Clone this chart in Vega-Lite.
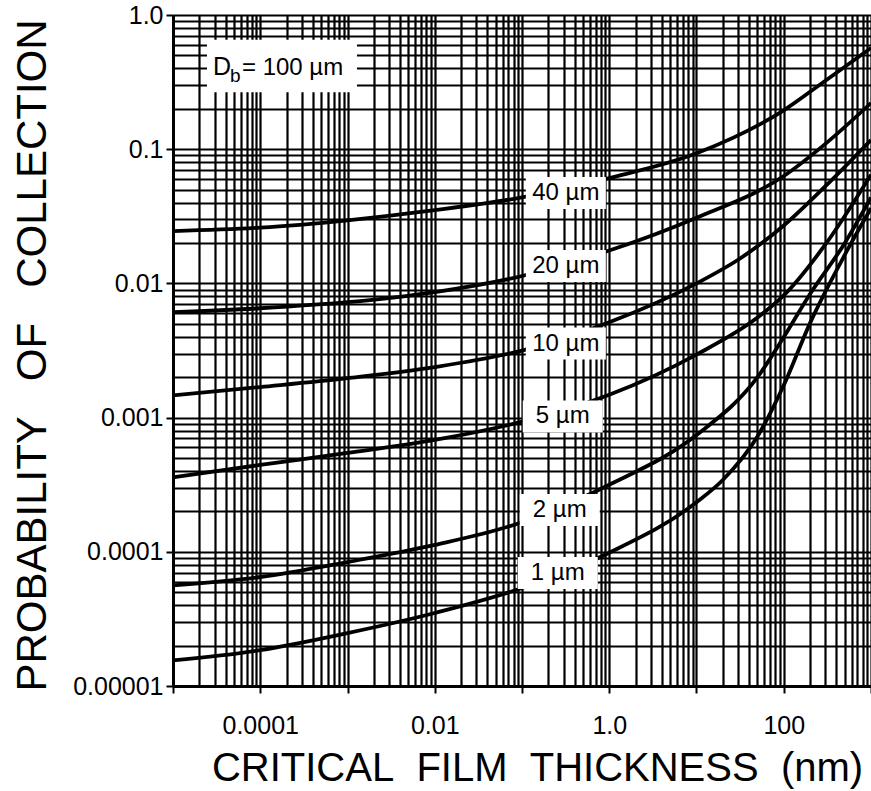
{
  "$schema": "https://vega.github.io/schema/vega-lite/v6.json",
  "width": 698,
  "height": 671,
  "autosize": {"type": "none"},
  "padding": {"left": 173, "top": 15, "right": 0, "bottom": 105},
  "background": "white",
  "config": {
    "view": {"stroke": null},
    "font": "Liberation Sans"
  },
  "datasets": {
    "curves": [
      {"series": "40 µm", "x": 0.00001, "p": 0.02455},
      {"series": "40 µm", "x": 0.0001, "p": 0.0260},
      {"series": "40 µm", "x": 0.001, "p": 0.0295},
      {"series": "40 µm", "x": 0.01, "p": 0.0351},
      {"series": "40 µm", "x": 0.1, "p": 0.0437},
      {"series": "40 µm", "x": 1, "p": 0.0610},
      {"series": "40 µm", "x": 10, "p": 0.0933},
      {"series": "40 µm", "x": 100, "p": 0.195},
      {"series": "40 µm", "x": 300, "p": 0.324},
      {"series": "40 µm", "x": 1000, "p": 0.568},

      {"series": "20 µm", "x": 0.00001, "p": 0.00610},
      {"series": "20 µm", "x": 0.0001, "p": 0.00653},
      {"series": "20 µm", "x": 0.001, "p": 0.00724},
      {"series": "20 µm", "x": 0.01, "p": 0.00861},
      {"series": "20 µm", "x": 0.1, "p": 0.01135},
      {"series": "20 µm", "x": 1, "p": 0.01758},
      {"series": "20 µm", "x": 10, "p": 0.0309},
      {"series": "20 µm", "x": 100, "p": 0.0631},
      {"series": "20 µm", "x": 300, "p": 0.1096},
      {"series": "20 µm", "x": 1000, "p": 0.2208},

      {"series": "10 µm", "x": 0.00001, "p": 0.001462},
      {"series": "10 µm", "x": 0.0001, "p": 0.00169},
      {"series": "10 µm", "x": 0.001, "p": 0.00197},
      {"series": "10 µm", "x": 0.01, "p": 0.00238},
      {"series": "10 µm", "x": 0.1, "p": 0.00316},
      {"series": "10 µm", "x": 1, "p": 0.00513},
      {"series": "10 µm", "x": 10, "p": 0.0100},
      {"series": "10 µm", "x": 30, "p": 0.0150},
      {"series": "10 µm", "x": 100, "p": 0.0270},
      {"series": "10 µm", "x": 300, "p": 0.0530},
      {"series": "10 µm", "x": 1000, "p": 0.1172},

      {"series": "5 µm", "x": 0.00001, "p": 0.000359},
      {"series": "5 µm", "x": 0.0001, "p": 0.000444},
      {"series": "5 µm", "x": 0.001, "p": 0.000545},
      {"series": "5 µm", "x": 0.01, "p": 0.000681},
      {"series": "5 µm", "x": 0.1, "p": 0.000933},
      {"series": "5 µm", "x": 1, "p": 0.00148},
      {"series": "5 µm", "x": 10, "p": 0.00295},
      {"series": "5 µm", "x": 50, "p": 0.00556},
      {"series": "5 µm", "x": 100, "p": 0.00813},
      {"series": "5 µm", "x": 300, "p": 0.0195},
      {"series": "5 µm", "x": 1000, "p": 0.0646},

      {"series": "2 µm", "x": 0.00001, "p": 0.0000562},
      {"series": "2 µm", "x": 0.0001, "p": 0.0000649},
      {"series": "2 µm", "x": 0.001, "p": 0.0000839},
      {"series": "2 µm", "x": 0.01, "p": 0.0001125},
      {"series": "2 µm", "x": 0.1, "p": 0.000166},
      {"series": "2 µm", "x": 1, "p": 0.000316},
      {"series": "2 µm", "x": 10, "p": 0.000741},
      {"series": "2 µm", "x": 50, "p": 0.00200},
      {"series": "2 µm", "x": 100, "p": 0.00398},
      {"series": "2 µm", "x": 200, "p": 0.00834},
      {"series": "2 µm", "x": 500, "p": 0.01995},
      {"series": "2 µm", "x": 1000, "p": 0.0437},

      {"series": "1 µm", "x": 0.00001, "p": 0.0000155},
      {"series": "1 µm", "x": 0.0001, "p": 0.0000185},
      {"series": "1 µm", "x": 0.001, "p": 0.0000248},
      {"series": "1 µm", "x": 0.01, "p": 0.0000350},
      {"series": "1 µm", "x": 0.1, "p": 0.0000537},
      {"series": "1 µm", "x": 1, "p": 0.0000984},
      {"series": "1 µm", "x": 10, "p": 0.000234},
      {"series": "1 µm", "x": 20, "p": 0.000343},
      {"series": "1 µm", "x": 50, "p": 0.000724},
      {"series": "1 µm", "x": 100, "p": 0.00174},
      {"series": "1 µm", "x": 200, "p": 0.00506},
      {"series": "1 µm", "x": 500, "p": 0.0163},
      {"series": "1 µm", "x": 1000, "p": 0.0363}
    ],
    "labels": [
      {"label": "40 µm", "x": 0.318, "p": 0.0472},
      {"label": "20 µm", "x": 0.318, "p": 0.01349},
      {"label": "10 µm", "x": 0.318, "p": 0.00356},
      {"label": "5 µm", "x": 0.293, "p": 0.00102},
      {"label": "2 µm", "x": 0.271, "p": 0.000205},
      {"label": "1 µm", "x": 0.257, "p": 0.0000695}
    ],
    "note": [
      {"value": "= 100 µm", "x": 0.0001774, "p": 0.417}
    ]
  },
  "encoding": {
    "x": {
      "field": "x",
      "type": "quantitative",
      "scale": {"type": "log", "domain": [0.00001, 1000], "nice": false},
      "axis": {
        "title": "CRITICAL\u00a0\u00a0FILM\u00a0\u00a0THICKNESS\u00a0\u00a0(nm)",
        "values": [0.00001, 0.00002, 0.00003, 0.00004, 0.00005, 0.00006, 0.00007, 0.00008, 0.00009,
                   0.0001, 0.0002, 0.0003, 0.0004, 0.0005, 0.0006, 0.0007, 0.0008, 0.0009,
                   0.001, 0.002, 0.003, 0.004, 0.005, 0.006, 0.007, 0.008, 0.009,
                   0.01, 0.02, 0.03, 0.04, 0.05, 0.06, 0.07, 0.08, 0.09,
                   0.1, 0.2, 0.3, 0.4, 0.5, 0.6, 0.7, 0.8, 0.9,
                   1, 2, 3, 4, 5, 6, 7, 8, 9,
                   10, 20, 30, 40, 50, 60, 70, 80, 90,
                   100, 200, 300, 400, 500, 600, 700, 800, 900, 1000],
        "labelExpr": "abs(datum.value-0.0001)<1e-10 ? '0.0001' : abs(datum.value-0.01)<1e-8 ? '0.01' : abs(datum.value-1)<1e-6 ? '1.0' : abs(datum.value-100)<1e-4 ? '100' : ''",
        "labelOverlap": false,
        "labelBound": false,
        "labelFlush": false,
        "labelFontSize": 25,
        "labelColor": "black",
        "labelPadding": 20,
        "grid": true,
        "gridColor": "black",
        "gridWidth": 2.2,
        "gridOpacity": 1,
        "domainColor": "black",
        "domainWidth": 3,
        "tickColor": "black",
        "tickWidth": 2,
        "tickSize": 7,
        "tickOpacity": {"condition": {"test": "abs(log(datum.value)/LN10 - round(log(datum.value)/LN10)) < 0.001", "value": 1}, "value": 0},
        "titleFontSize": 40,
        "titleFontWeight": "normal",
        "titleColor": "black",
        "titleX": 364,
        "titleY": 94,
        "titleAlign": "center",
        "titleBaseline": "alphabetic"
      }
    },
    "y": {
      "field": "p",
      "type": "quantitative",
      "scale": {"type": "log", "domain": [0.00001, 1], "nice": false},
      "axis": {
        "title": "PROBABILITY\u00a0\u00a0\u00a0OF\u00a0\u00a0\u00a0COLLECTION",
        "values": [0.00001, 0.00002, 0.00003, 0.00004, 0.00005, 0.00006, 0.00007, 0.00008, 0.00009,
                   0.0001, 0.0002, 0.0003, 0.0004, 0.0005, 0.0006, 0.0007, 0.0008, 0.0009,
                   0.001, 0.002, 0.003, 0.004, 0.005, 0.006, 0.007, 0.008, 0.009,
                   0.01, 0.02, 0.03, 0.04, 0.05, 0.06, 0.07, 0.08, 0.09,
                   0.1, 0.2, 0.3, 0.4, 0.5, 0.6, 0.7, 0.8, 0.9, 1],
        "labelExpr": "abs(datum.value-1)<1e-6 ? '1.0' : abs(datum.value-0.1)<1e-7 ? '0.1' : abs(datum.value-0.01)<1e-8 ? '0.01' : abs(datum.value-0.001)<1e-9 ? '0.001' : abs(datum.value-0.0001)<1e-10 ? '0.0001' : abs(datum.value-0.00001)<1e-11 ? '0.00001' : ''",
        "labelOverlap": false,
        "labelBound": false,
        "labelFlush": false,
        "labelFontSize": 25,
        "labelColor": "black",
        "labelPadding": 3,
        "grid": true,
        "gridColor": "black",
        "gridWidth": 2.2,
        "gridOpacity": 1,
        "domainColor": "black",
        "domainWidth": 3,
        "tickColor": "black",
        "tickWidth": 2,
        "tickSize": 7,
        "tickOpacity": {"condition": {"test": "abs(log(datum.value)/LN10 - round(log(datum.value)/LN10)) < 0.001", "value": 1}, "value": 0},
        "titleFontSize": 42,
        "titleFontWeight": "normal",
        "titleColor": "black",
        "titleAngle": -90,
        "titleX": -128,
        "titleY": 340,
        "titleAlign": "center",
        "titleBaseline": "alphabetic"
      }
    }
  },
  "layer": [
    {
      "data": {"name": "curves"},
      "mark": {"type": "line", "stroke": "black", "strokeWidth": 3.8, "interpolate": "monotone", "clip": true},
      "encoding": {"detail": {"field": "series", "type": "nominal"}}
    },
    {
      "data": {"name": "labels"},
      "mark": {"type": "point", "shape": "M-1,-0.4H1V0.4H-1Z", "filled": true, "fill": "white", "opacity": 1, "strokeWidth": 0, "size": 6400}
    },
    {
      "data": {"name": "labels"},
      "mark": {"type": "text", "fontSize": 24, "color": "black", "align": "center", "baseline": "middle"},
      "encoding": {"text": {"field": "label", "type": "nominal"}}
    },
    {
      "data": {"name": "note"},
      "mark": {"type": "point", "shape": "M-1,-0.35H1V0.35H-1Z", "filled": true, "fill": "white", "opacity": 1, "strokeWidth": 0, "size": 22500}
    },
    {
      "data": {"name": "note"},
      "mark": {"type": "text", "text": "D", "fontSize": 25, "color": "black", "align": "left", "baseline": "alphabetic", "dx": -69, "dy": 9}
    },
    {
      "data": {"name": "note"},
      "mark": {"type": "text", "text": "b", "fontSize": 19, "color": "black", "align": "left", "baseline": "alphabetic", "dx": -52, "dy": 16}
    },
    {
      "data": {"name": "note"},
      "mark": {"type": "text", "fontSize": 24, "color": "black", "align": "left", "baseline": "alphabetic", "dx": -40, "dy": 9},
      "encoding": {"text": {"field": "value", "type": "nominal"}}
    }
  ]
}
